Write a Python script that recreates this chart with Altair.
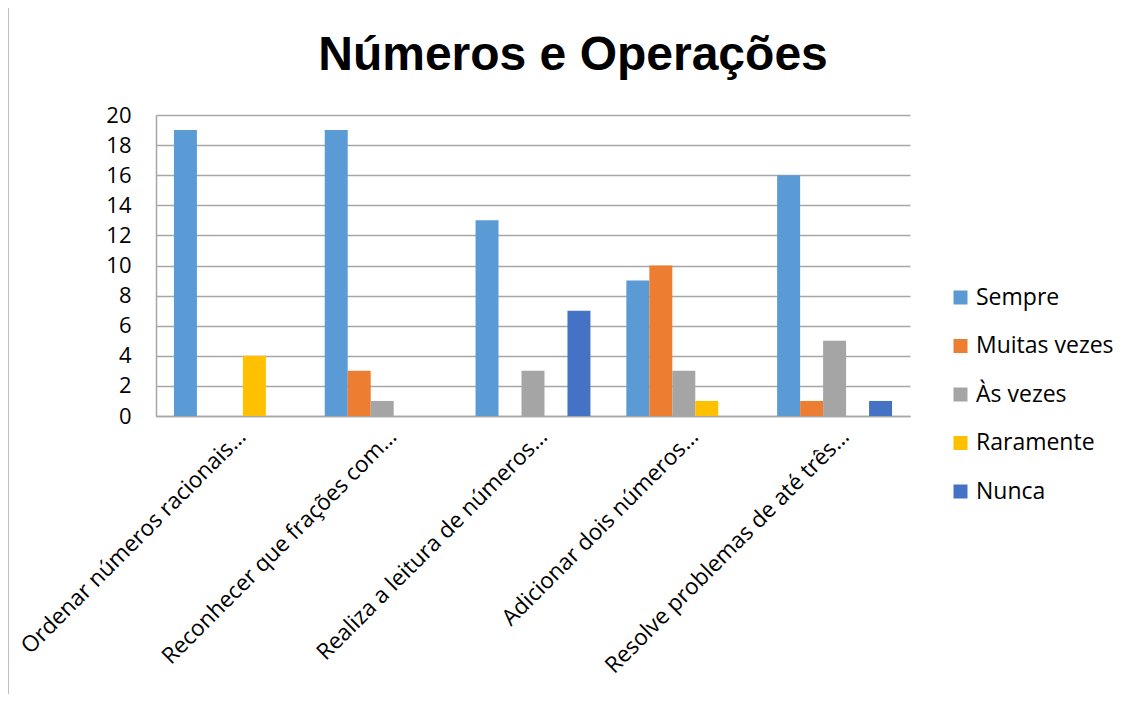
import altair as alt
import pandas as pd

categories = [
    "Ordenar números racionais…",
    "Reconhecer que frações com…",
    "Realiza a leitura de números…",
    "Adicionar dois números…",
    "Resolve problemas de até três…",
]
series = ["Sempre", "Muitas vezes", "Às vezes", "Raramente", "Nunca"]
sempre = [19, 19, 13, 9, 16]
muitas_vezes = [0, 3, 0, 10, 1]
as_vezes = [0, 1, 3, 3, 5]
raramente = [4, 0, 0, 1, 0]
nunca = [0, 0, 7, 0, 1]
colors = ["#5B9BD5", "#ED7D31", "#A5A5A5", "#FFC000", "#4472C4"]
y_ticks = [0, 2, 4, 6, 8, 10, 12, 14, 16, 18, 20]

values = [sempre, muitas_vezes, as_vezes, raramente, nunca]
rows = []
for s, vals in zip(series, values):
    for c, v in zip(categories, vals):
        rows.append({"categoria": c, "serie": s, "valor": v})
df = pd.DataFrame(rows)

FONT = "Open Sans"
GRID = "#a6a6a6"

bars = alt.Chart(df).mark_bar().encode(
    x=alt.X(
        "categoria:N",
        sort=categories,
        scale=alt.Scale(paddingInner=0.238, paddingOuter=0.119),
        axis=alt.Axis(
            title=None,
            labelAngle=-45,
            labelFont=FONT,
            labelFontSize=22.5,
            labelColor="#000000",
            labelOffset=3,
            labelPadding=9,
            labelLimit=0,
            ticks=False,
            domainColor=GRID,
            domainWidth=1.5,
            grid=False,
        ),
    ),
    xOffset=alt.XOffset("serie:N", sort=series, scale=alt.Scale(paddingInner=0, paddingOuter=0)),
    y=alt.Y(
        "valor:Q",
        scale=alt.Scale(domain=[0, 20], nice=False),
        axis=alt.Axis(
            title=None,
            values=y_ticks,
            labelFont=FONT,
            labelFontSize=22,
            labelColor="#000000",
            labelPadding=25,
            ticks=False,
            domainColor=GRID,
            domainWidth=1.5,
            grid=True,
            gridColor=GRID,
            gridWidth=1.5,
        ),
    ),
    color=alt.Color(
        "serie:N",
        sort=series,
        scale=alt.Scale(domain=series, range=colors),
        legend=alt.Legend(
            title=None,
            orient="none",
            legendX=793,
            legendY=171,
            symbolType="square",
            symbolSize=196,
            symbolStrokeWidth=0,
            labelFont=FONT,
            labelFontSize=23,
            labelColor="#000000",
            labelOffset=4,
            rowPadding=24.5,
        ),
    ),
)

frame_src = pd.DataFrame({"k": [0]})
left_border = alt.Chart(frame_src).mark_rule(color="#bfbfbf", strokeWidth=2).encode(
    x=alt.value(-148), y=alt.value(-108), y2=alt.value(579)
)
top_border = alt.Chart(frame_src).mark_rule(color="#bfbfbf", strokeWidth=2).encode(
    x=alt.value(-148), x2=alt.value(970), y=alt.value(-108)
)

chart = alt.layer(bars, left_border, top_border).properties(
    width=754,
    height=301,
    background="white",
    autosize=alt.AutoSizeParams(type="none"),
    padding={"left": 148, "top": 107, "right": 216, "bottom": 278},
    title=alt.TitleParams(
        "Números e Operações",
        font="Liberation Sans",
        fontSize=48,
        fontWeight="bold",
        color="#000000",
        anchor="middle",
        frame="group",
        baseline="alphabetic",
        offset=0,
        dy=112,
        dx=40,
    ),
).configure_view(stroke=None)

chart.save("out.html", embed_options={"renderer": "svg", "actions": False})
